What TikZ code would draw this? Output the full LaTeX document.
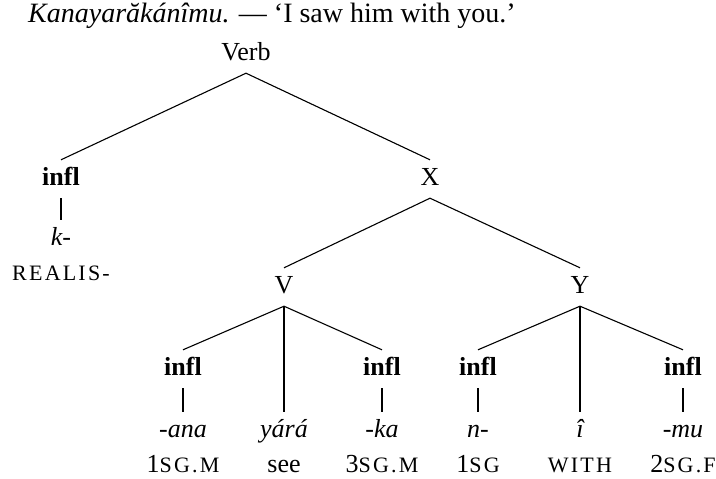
\documentclass[tikz,border=0pt]{standalone}
\usepackage{fontspec}
\setmainfont{Liberation Serif}
\usetikzlibrary{positioning}
\newcommand{\glsc}[1]{{\fontsize{22}{24}\selectfont\addfontfeatures{LetterSpace=10}#1}}
\begin{document}
\begin{tikzpicture}[
  x=1pt, y=-1pt,
  on grid,
  every node/.style={font=\fontsize{26}{30}\selectfont},
  lab/.style={inner xsep=0pt, inner ysep=8pt, text height=17pt, text depth=5pt},
  cat/.style={lab, font=\fontsize{26}{30}\selectfont\bfseries},
  morph/.style={lab, font=\fontsize{26}{30}\selectfont\itshape},
  gloss/.style={inner sep=0pt, anchor=base},
  branch/.style={line width=1.1pt, black}
]
\useasboundingbox (0,0) rectangle (716,479);

% heading
\node[anchor=base west, inner sep=0pt, font=\fontsize{28}{32}\selectfont] (title) at (28,22)
  {\textit{Kanayarăkánîmu.} --- `I saw him with you.'};

% top of the tree
\node[lab] (verb) at (246,54) {Verb};
\node[cat, below left=125pt and 185pt of verb] (infl0) {infl};
\node[lab, below right=125pt and 184pt of verb] (X) {X};
\node[morph, below=60pt of infl0] (k) {k-};
\node[below=41pt of k, gloss] (realis) {\glsc{REALIS-}};

% second level
\node[lab, below left=108pt and 146pt of X] (V) {V};
\node[lab, below right=108pt and 150pt of X] (Y) {Y};

% under V
\node[cat, below left=82pt and 101pt of V] (inflA) {infl};
\node[morph, below=144pt of V] (yara) {yárá};
\node[cat, below right=82pt and 98pt of V] (inflB) {infl};
\node[morph, below=62pt of inflA] (ana) {-ana};
\node[morph, below=62pt of inflB] (ka) {-ka};
\node[below=41pt of ana, gloss] (glA) {1\glsc{SG.M}};
\node[below=41pt of yara, gloss] (glsee) {see};
\node[below=41pt of ka, gloss] (glB) {3\glsc{SG.M}};

% under Y
\node[cat, below left=82pt and 102pt of Y] (inflC) {infl};
\node[morph, below=144pt of Y] (ihat) {î};
\node[cat, below right=82pt and 103pt of Y] (inflD) {infl};
\node[morph, below=62pt of inflC] (n) {n-};
\node[morph, below=62pt of inflD] (mu) {-mu};
\node[below=41pt of n, gloss] (glC) {1\glsc{SG}};
\node[below=41pt of ihat, gloss] (glwith) {\glsc{WITH}};
\node[below=41pt of mu, gloss] (glD) {2\glsc{SG.F}};

% branches
\draw[branch] (verb.south) -- (infl0.north);
\draw[branch] (verb.south) -- (X.north);
\draw[branch] (infl0.south) -- (k.north);

\draw[branch] (X.south) -- (V.north);
\draw[branch] (X.south) -- (Y.north);

\draw[branch] (V.south) -- (inflA.north);
\draw[branch] (V.south) -- (yara.north);
\draw[branch] (V.south) -- (inflB.north);
\draw[branch] (inflA.south) -- (ana.north);
\draw[branch] (inflB.south) -- (ka.north);

\draw[branch] (Y.south) -- (inflC.north);
\draw[branch] (Y.south) -- (ihat.north);
\draw[branch] (Y.south) -- (inflD.north);
\draw[branch] (inflC.south) -- (n.north);
\draw[branch] (inflD.south) -- (mu.north);

\end{tikzpicture}
\end{document}
